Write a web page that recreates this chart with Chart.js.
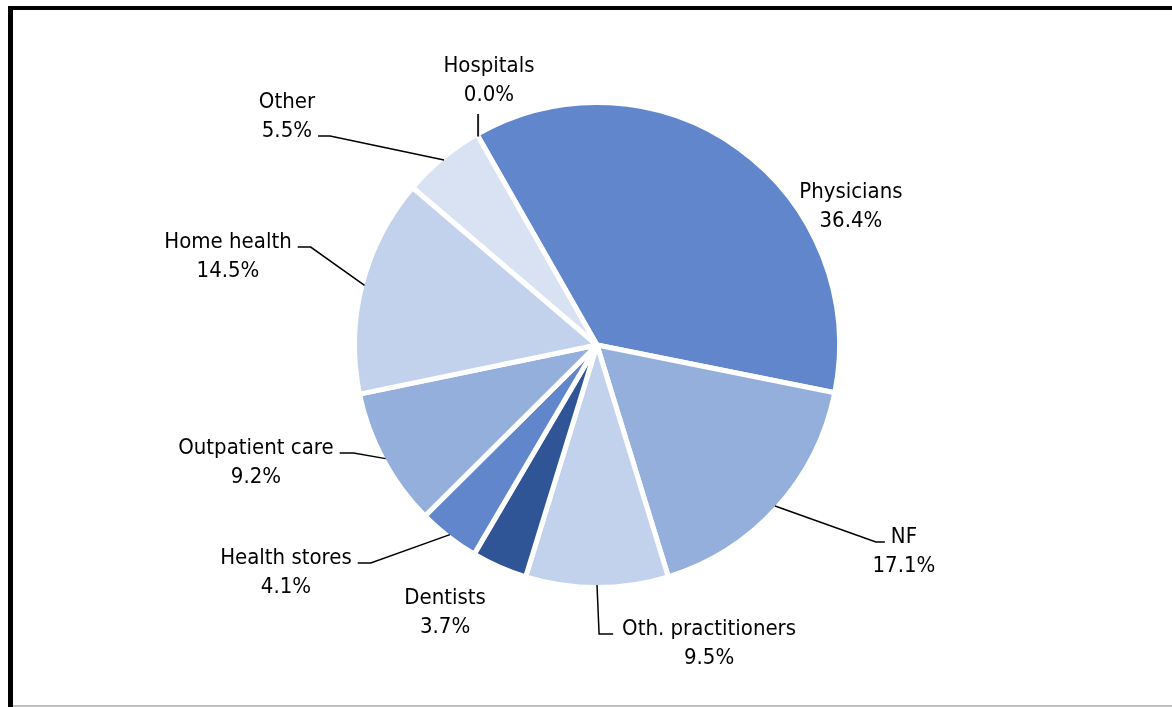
<!DOCTYPE html>
<html>
<head>
<meta charset="utf-8">
<script src="https://cdn.jsdelivr.net/npm/chart.js@4.4.1/dist/chart.umd.min.js"></script>
<style>
  html, body { margin: 0; padding: 0; background: #fff; }
  #wrap { width: 1172px; height: 707px; position: relative; }
</style>
</head>
<body>
<div id="wrap"><canvas id="pieChart" width="1172" height="707"></canvas></div>
<script>
// spending shares, clockwise from the Hospitals slice
var categories = ["Hospitals", "Physicians", "NF", "Oth. practitioners", "Dentists", "Health stores", "Outpatient care", "Home health", "Other"];
var shares = [0.0, 36.4, 17.1, 9.5, 3.7, 4.1, 9.2, 14.5, 5.5];
var sliceColors = ["#6186CC", "#6186CC", "#95AFDC", "#C3D2EC", "#2F5597", "#6186CC", "#95AFDC", "#C3D2EC", "#D9E2F3"];

// where each label sits (offset from centre in units of radius, to first baseline)
// lead: which side the leader line comes in from, row: which text row it meets
var labelPlace = [
  { dx: -0.45, dy: -1.1375, lead: "up" },
  { dx: 1.058, dy: -0.6125, lead: null },
  { dx: 1.279, dy: 0.825, lead: "right", row: 0, gap: 6, seg: 9 },
  { dx: 0.467, dy: 1.208, lead: "right", row: 0, gap: 9, seg: 14 },
  { dx: -0.633, dy: 1.079, lead: null },
  { dx: -1.296, dy: 0.9125, lead: "left", row: 0, gap: 6, seg: 13 },
  { dx: -1.421, dy: 0.454, lead: "left", row: 0, gap: 6, seg: 14 },
  { dx: -1.5375, dy: -0.404, lead: "left", row: 0, gap: 6, seg: 13 },
  { dx: -1.292, dy: -0.9875, lead: "left", row: 1, gap: 6, seg: 12 }
];

var LABEL_FONT = "22px 'DejaVu Sans Condensed', 'DejaVu Sans', sans-serif";
var LINE_H = 29;

// frame round the chart (thick black left + top, thin grey bottom)
var framePlugin = {
  id: "frame",
  beforeDraw: function (chart) {
    var ctx = chart.ctx;
    ctx.save();
    ctx.fillStyle = "#fff";
    ctx.fillRect(0, 0, chart.width, chart.height);
    ctx.fillStyle = "#000";
    ctx.fillRect(8, 6, chart.width - 8, 4);
    ctx.fillRect(8, 6, 5, chart.height - 6);
    ctx.fillStyle = "#c0c0c0";
    ctx.fillRect(13, chart.height - 2, chart.width - 13, 2);
    ctx.restore();
  }
};

var labelPlugin = {
  id: "sliceLabels",
  afterDatasetsDraw: function (chart) {
    var ctx = chart.ctx;
    var meta = chart.getDatasetMeta(0);
    ctx.save();
    ctx.font = LABEL_FONT;
    ctx.fillStyle = "#000";
    ctx.textAlign = "center";
    ctx.textBaseline = "alphabetic";
    meta.data.forEach(function (arc, i) {
      var p = labelPlace[i];
      var cx = arc.x, cy = arc.y;
      var r = arc.outerRadius - 2.5; // visible edge (white border eats some)
      var mid = (arc.startAngle + arc.endAngle) / 2;
      var tx = cx + p.dx * r;
      var ty = cy + p.dy * r;
      var rows = [categories[i], shares[i].toFixed(1) + "%"];
      ctx.fillText(rows[0], tx, ty);
      ctx.fillText(rows[1], tx, ty + LINE_H);

      if (!p.lead) return;
      var ex = cx + Math.cos(mid) * r;
      var ey = cy + Math.sin(mid) * r;
      ctx.beginPath();
      if (p.lead === "up") {
        ctx.lineWidth = 2;
        ctx.strokeStyle = "#222";
        ctx.moveTo(ex, ey);
        ctx.lineTo(ex, ty + LINE_H + 13);
      } else {
        ctx.lineWidth = 1.5;
        ctx.strokeStyle = "#000";
        var w = ctx.measureText(rows[p.row]).width;
        var by = ty + p.row * LINE_H - 1;
        var endX, elbowX;
        if (p.lead === "left") {
          endX = tx + w / 2 + p.gap;
          elbowX = endX + p.seg;
        } else {
          endX = tx - w / 2 - p.gap;
          elbowX = endX - p.seg;
        }
        ctx.moveTo(endX, by);
        ctx.lineTo(elbowX, by);
        ctx.lineTo(ex, ey);
      }
      ctx.stroke();
    });
    ctx.restore();
  }
};

var pieCtx = document.getElementById("pieChart").getContext("2d");
var sharesChart = new Chart(pieCtx, {
  type: "pie",
  data: {
    labels: categories,
    datasets: [{
      data: shares,
      backgroundColor: sliceColors,
      borderColor: "#ffffff",
      borderWidth: 5,
      radius: 242.5
    }]
  },
  options: {
    responsive: false,
    animation: false,
    rotation: -29.7,
    layout: { padding: { left: 22, right: 0, top: 0, bottom: 17 } },
    plugins: {
      legend: { display: false },
      tooltip: { enabled: false }
    }
  },
  plugins: [framePlugin, labelPlugin]
});
</script>
</body>
</html>
